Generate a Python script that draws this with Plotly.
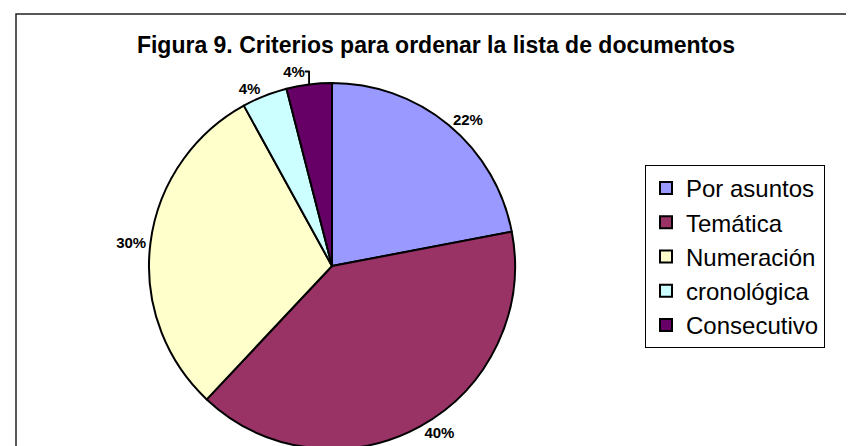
import plotly.graph_objects as go

title_text = "Figura 9. Criterios para ordenar la lista de documentos"
categories = ["Por asuntos", "Temática", "Numeración", "cronológica", "Consecutivo"]
counts = [11, 20, 15, 2, 2]
colors = ["#9999FF", "#993366", "#FFFFCC", "#CCFFFF", "#660066"]

W, H = 854, 446
FONT = "Arial, Liberation Sans, sans-serif"

fig = go.Figure(go.Pie(
    labels=categories,
    values=counts,
    sort=False,
    direction="clockwise",
    rotation=0,
    marker=dict(colors=colors, line=dict(color="black", width=2)),
    textinfo="percent",
    texttemplate="%{percent:.0%}",
    textposition="outside",
    textfont=dict(family=FONT, size=15, color="black", weight="bold"),
    domain=dict(x=[141 / W, 507 / W], y=[1 - 441 / H, 1 - 75 / H]),
    showlegend=True,
    automargin=False,
))

fig.update_layout(
    width=W, height=H,
    margin=dict(l=0, r=0, t=0, b=0),
    paper_bgcolor="white",
    plot_bgcolor="white",
    title=dict(
        text="<b>" + title_text + "</b>",
        x=428 / W, xanchor="center", xref="paper",
        y=1 - 37 / H, yanchor="middle", yref="paper",
        font=dict(family=FONT, size=23, color="black"),
    ),
    legend=dict(
        x=637 / W, xanchor="left",
        y=1 - 157 / H, yanchor="top",
        bordercolor="black", borderwidth=1,
        bgcolor="white",
        font=dict(family=FONT, size=24, color="black"),
        itemclick=False,
        traceorder="normal",
    ),
    shapes=[dict(
        type="rect", xref="paper", yref="paper",
        x0=8 / W, x1=848 / W, y0=-0.05, y1=1 - 6 / H,
        line=dict(color="#222222", width=1.5),
        fillcolor="rgba(0,0,0,0)", layer="below",
    )],
)

fig.write_html("out.html")
